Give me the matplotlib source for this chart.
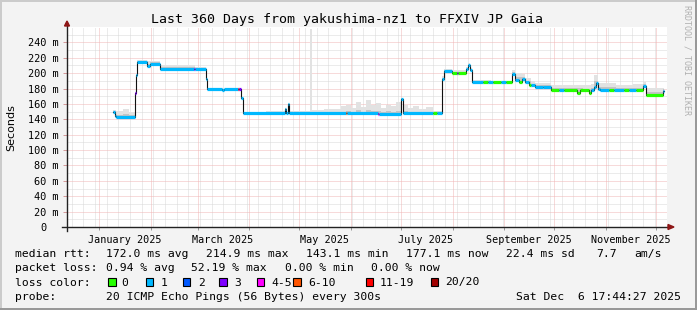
import numpy as np
import pandas as pd
import matplotlib
matplotlib.use("Agg")
import matplotlib.pyplot as plt
from matplotlib.patches import Rectangle, Polygon

# ---------------- data ----------------
ORIGIN = pd.Timestamp("2025-01-01")
X_START, X_END = -19.4, 340.6          # days relative to 2025-01-01
Y_MAX = 260

title = "Last 360 Days from yakushima-nz1 to FFXIV JP Gaia"

# median rtt (ms) step breakpoints: day since 2025-01-01, value, loss class
med_day = [8.2, 9.2, 10.1, 21.1, 21.8, 22.7, 28.7, 30.5, 36.1, 56.9, 57.5, 64.0, 64.7,
           73.6, 74.5, 83.0, 84.0, 85.1, 86.0, 111.2, 112.1, 112.9, 113.9, 148.0, 148.6,
           167.3, 168.0, 181.1, 182.3, 200.0, 202.5, 205.6, 206.5, 211.7, 214.7, 215.4,
           220.1, 221.3, 222.5, 223.7, 230.0, 233.0, 236.0, 241.0, 244.0, 247.6, 249.5,
           251.9, 253.7, 255.5, 257.9, 259.1, 261.5, 266.0, 270.8, 276.0, 279.0, 286.7,
           288.5, 293.9, 295.1, 296.9, 298.1, 299.3, 300.5, 306.0, 309.0, 315.0, 318.0,
           322.0, 326.3, 328.1, 338.0]
med_ms = [149.7, 144.5, 143.5, 174, 198, 214, 209.5, 212, 206, 206, 206, 193, 179,
          177.5, 179, 179, 179, 168, 147.6, 154, 148, 160, 148, 148, 148,
          147.5, 147.5, 167, 148, 148, 148, 193, 203, 200.5, 200.5, 200.5,
          205, 210.4, 204, 188.5, 188.5, 188.5, 188.5, 188.5, 188.5, 198.5, 191,
          188, 193, 188, 185, 184.4, 182.2, 182.2, 177.8, 177.8, 177.8, 174.6,
          177.8, 174.6, 177.8, 182, 187, 180, 178, 178, 178, 178, 178,
          178, 183, 171.4, 177]
med_loss = [1, 1, 1, 3, 1, 1, 1, 1, 1, 3, 1, 1, 1,
            1, 1, 6, 3, 1, 1, 1, 1, 1, 1, 5, 1,
            4, 1, 1, 1, 0, 1, 1, 1, 0, 3, 0,
            1, 1, 1, 1, 0, 1, 0, 1, 0, 1, 1,
            0, 1, 1, 0, 1, 1, 1, 0, 1, 0, 0,
            0, 0, 1, 1, 1, 1, 1, 0, 1, 0, 1,
            0, 1, 0, 1]
med_end = 339.0

# smoke (spread of the 20 pings): outer max and inner band
smoke_day = [8.2, 10.1, 14, 18, 21.1, 21.8, 22.7, 28.7, 30.5, 36.1, 45, 52, 57.5, 64.0, 64.7,
             75, 83, 85.1, 86.0, 100, 111.2, 112.1, 112.9, 113.9, 126.6, 127.7, 135, 145,
             148, 151, 154, 157, 160, 163, 166, 169, 172, 175, 178, 181.1, 182.3, 185, 188,
             192, 196, 200, 205.6, 206.5, 211.7,
             220.1, 221.3, 222.5, 223.7, 235, 247.6, 249.5, 253.7, 255.5, 259.1, 261.5,
             270.8, 280, 290, 295.1, 296.9, 299.3, 310, 320, 326.3, 328.1, 338]
smoke_hi = [152, 151, 153, 150, 175, 199, 217, 216, 216, 210, 211, 210, 208, 194, 181,
            180, 180, 169, 150, 151, 155, 150, 161, 151, 258, 152, 153, 157,
            159, 155, 162, 156, 165, 158, 161, 155, 159, 157, 162, 168, 158, 155, 157,
            154, 156, 151, 196, 206, 204,
            208, 213, 207, 191, 190, 204, 200, 199, 194, 190, 187,
            184, 185, 184, 186, 197, 187, 185, 186, 189, 181, 181]
smoke_mid = [150.5, 146, 147, 146, 174, 198, 215.5, 212, 214, 208, 208, 207.5, 207, 193, 180,
             179.5, 179.5, 168, 148.5, 149, 155, 149, 160.5, 149, 150, 149, 149.5, 150,
             151, 150, 152, 150, 152, 151, 151, 150, 151, 150, 151, 167.5, 151, 150, 150,
             150, 150, 149, 194, 204.5, 202,
             206, 211, 205, 190, 189.5, 201, 195, 195, 190, 186.5, 184.5,
             181, 181, 180, 181, 190, 182, 181, 181, 186, 175, 179]

loss_labels = ["0", "1", "2", "3", "4-5", "6-10", "11-19", "20/20"]
loss_colors = ["#26ff00", "#00b8ff", "#0059ff", "#7e00ff", "#ff00ff", "#ff5500", "#ff0000", "#a10000"]

y_ticks = list(range(0, 241, 20))
x_label_dates = ["2025-01-16", "2025-03-16", "2025-05-16", "2025-07-16", "2025-09-16", "2025-11-16"]
x_label_text = ["January 2025", "March 2025", "May 2025", "July 2025", "September 2025", "November 2025"]

legend_rows = [
    [("median rtt:", 16), ("172.0 ms avg", 107), ("214.9 ms max", 207), ("143.1 ms min", 307),
     ("177.1 ms now", 407), ("22.4 ms sd", 507), ("7.7", 597), ("am/s", 635)],
    [("packet loss:", 16), ("0.94 % avg", 107), ("52.19 % max", 192), ("0.00 % min", 286),
     ("0.00 % now", 372)],
    [("loss color:", 16)],
    [("probe:", 16), ("20 ICMP Echo Pings (56 Bytes) every 300s", 107)],
]
stamp = "Sat Dec  6 17:44:27 2025"

# ---------------- layout ----------------
W, H = 697, 310
MONO = "DejaVu Sans Mono"
fig = plt.figure(figsize=(W / 100, H / 100), dpi=100, facecolor="#f3f3f3")


def fx(x):
    return x / W


def fy(y):
    return 1 - y / H


ax = fig.add_axes([fx(67), fy(227), 600 / W, 200 / H])
ax.set_facecolor("white")
ax.set_xlim(X_START, X_END)
ax.set_ylim(0, Y_MAX)
for s in ax.spines.values():
    s.set_visible(False)

PX = 0.72
GRAY = "#d8d8d8"
RED = "#f0b6b6"


def dnum(s):
    return (pd.Timestamp(s) - ORIGIN) / pd.Timedelta(days=1)


# grid
month_days = [dnum(d) for d in pd.date_range("2024-12-01", "2025-12-01", freq="MS")]
month_days = [d for d in month_days if X_START < d < X_END]
week_days = [d for d in np.arange(4.4 - 7 * 4, X_END, 7) if X_START < d < X_END]
for d in week_days:
    ax.axvline(d, color=GRAY, lw=PX, ls=(0, (1, 1)), zorder=0.5)
for v in range(10, Y_MAX, 20):
    ax.axhline(v, color=GRAY, lw=PX, ls=(0, (1, 1)), zorder=0.5)
for d in month_days:
    ax.axvline(d, color=RED, lw=PX, ls=(0, (1, 1)), zorder=0.6)
for v in y_ticks[1:]:
    ax.axhline(v, color=RED, lw=PX, ls=(0, (1, 1)), zorder=0.6)

# smoke
sd = np.array(smoke_day)
md = np.array(med_day)
all_days = np.array(sorted(set(med_day) | set(smoke_day) | {med_end}))
mi = np.clip(np.searchsorted(md, all_days, side="right") - 1, 0, None)
si = np.clip(np.searchsorted(sd, all_days, side="right") - 1, 0, None)
base = np.array(med_ms)[mi]
hi = np.maximum(np.array(smoke_hi)[si], base)
mid = np.maximum(np.array(smoke_mid)[si], base)
ax.fill_between(all_days, base - 0.5, hi, step="post", color="#e2e2e2", lw=0, zorder=1)
ax.fill_between(all_days, base - 0.5, mid, step="post", color="#c4c4c4", lw=0, zorder=1.1)

# median line
ax.step(med_day + [med_end], med_ms + [med_ms[-1]], where="post", color="#111111", lw=0.8, zorder=2)
ends = med_day[1:] + [med_end]
ax.hlines(med_ms, med_day, ends, colors=[loss_colors[k] for k in med_loss], lw=2.3,
          zorder=3, capstyle="butt")

# ticks
ax.set_yticks(y_ticks, [("%d m" % v) if v else "0" for v in y_ticks])
ax.tick_params(axis="y", direction="out", length=3, width=PX, color="#d49a9a",
               pad=3.0, labelsize=7.4)
ax.yaxis.get_major_ticks()[0].set_pad(3.0 + 9.0)
for t in ax.get_yticklabels():
    t.set_fontfamily(MONO)
ax.set_xticks(month_days, [""] * len(month_days))
ax.tick_params(axis="x", which="major", direction="out", length=2, width=PX, color="#999999")
ax.set_xticks([dnum(d) for d in x_label_dates], x_label_text, minor=True)
ax.tick_params(axis="x", which="minor", length=0, pad=5.6, labelsize=7.3)
for t in ax.get_xticklabels(minor=True):
    t.set_fontfamily(MONO)

# axis lines and arrows
AX = "#222222"
ax.plot([X_START, X_START], [-4 / 200 * Y_MAX, Y_MAX + 4 / 200 * Y_MAX], color=AX, lw=1.0,
        clip_on=False, zorder=5)
ax.plot([X_START - 5 * 0.6, X_END + 3 * 0.6], [0, 0], color=AX, lw=1.0, clip_on=False, zorder=5)
ARW = "#8e1616"
fig.add_artist(Polygon([(fx(64.5), fy(26)), (fx(69.5), fy(26)), (fx(67), fy(21))],
                       closed=True, color=ARW, transform=fig.transFigure))
fig.add_artist(Polygon([(fx(668), fy(224.5)), (fx(668), fy(229.5)), (fx(674), fy(227))],
                       closed=True, color=ARW, transform=fig.transFigure))

# texts
fig.text(fx(347), fy(23.3), title, ha="center", va="baseline", fontsize=9.5, family=MONO)
fig.text(fx(11), fy(128), "Seconds", rotation=90, ha="center", va="center", fontsize=8,
         family="DejaVu Sans")
fig.text(fx(687), fy(5), "RRDTOOL / TOBI OETIKER", rotation=270, ha="center", va="top",
         fontsize=6, family=MONO, color="#b0b0b0")

row_y = [257.3, 271.3, 285.5, 299.6]
for row, yy in zip(legend_rows, row_y):
    for txt, xx in row:
        fig.text(fx(xx - 1), fy(yy), txt, ha="left", va="baseline", fontsize=8.2, family=MONO)
fig.text(fx(681), fy(row_y[3]), stamp, ha="right", va="baseline", fontsize=8.2, family=MONO)

box_x = [108.3, 145.7, 182.7, 219.3, 256.7, 293.3, 365.7, 430.7]
lab_x = [122.7, 161.7, 198.7, 235.3, 272.7, 309.3, 380.7, 446.0]
for c, lab, bx, lx in zip(loss_colors, loss_labels, box_x, lab_x):
    fig.add_artist(Rectangle((fx(bx), fy(285.8)), 7.7 / W, 7.7 / H, facecolor=c,
                             edgecolor="black", lw=0.8, transform=fig.transFigure))
    fig.text(fx(lx - 1), fy(row_y[2]), lab, ha="left", va="baseline", fontsize=8.2, family=MONO)

# border shading
fig.add_artist(Rectangle((0, 0), fx(2), 1, color="#cbcbcb", lw=0, transform=fig.transFigure))
fig.add_artist(Rectangle((0, fy(2)), 1, 2 / H, color="#cbcbcb", lw=0, transform=fig.transFigure))
fig.add_artist(Rectangle((fx(W - 2), 0), 2 / W, 1, color="#999999", lw=0, transform=fig.transFigure))
fig.add_artist(Rectangle((0, 0), 1, 2 / H, color="#999999", lw=0, transform=fig.transFigure))

fig.savefig("out.png", dpi=100, facecolor=fig.get_facecolor())
